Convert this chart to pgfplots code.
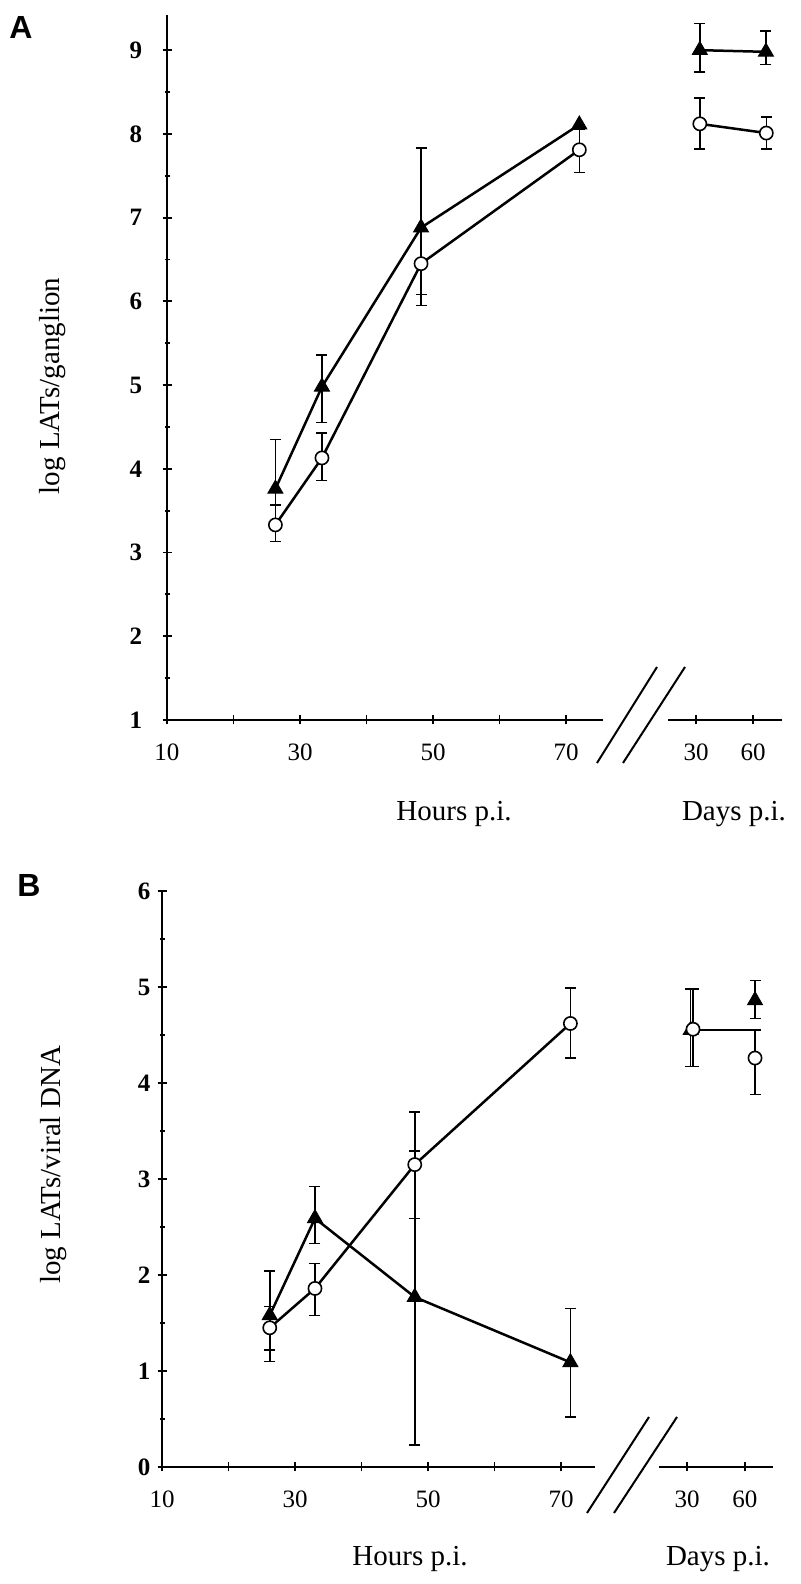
\documentclass[border=0pt]{standalone}
\usepackage{pgfplots}
\pgfplotsset{compat=1.18}
\usepackage{pgfplotstable}
\usepackage{fontspec}
\setmainfont{Liberation Serif}
\newfontfamily\panelfont{Liberation Sans}

% Panel A, hours
\pgfplotstableread{
x y ep em
26.3 3.76 0.59 0.19
33.3 4.98 0.38 0.43
48.2 6.88 0.95 0.80
72.0 8.11 0.00 0.00
}\Atri
\pgfplotstableread{
x y ep em
26.3 3.33 0.24 0.20
33.3 4.13 0.30 0.27
48.2 6.45 0.40 0.50
72.0 7.81 0.25 0.27
}\Acir
% Panel A, days
\pgfplotstableread{
x y ep em
32.0 9.00 0.32 0.26
66.8 8.98 0.25 0.15
}\Atrid
\pgfplotstableread{
x y ep em
32.0 8.12 0.31 0.30
67.0 8.01 0.19 0.19
}\Acird
% Panel B, hours
\pgfplotstableread{
x y ep em
26.2 1.58 0.46 0.36
33.0 2.59 0.33 0.26
48.0 1.77 1.52 1.54
71.4 1.09 0.56 0.57
}\Btri
\pgfplotstableread{
x y ep em
26.2 1.45 0.22 0.35
33.0 1.86 0.26 0.28
48.0 3.15 0.55 0.56
71.4 4.62 0.37 0.36
}\Bcir
% Panel B, days
\pgfplotstableread{
x y ep em
31.9 4.55 0.43 0.38
65.2 4.86 0.21 0.19
}\Btrid
\pgfplotstableread{
x y ep em
33.1 4.56 0.42 0.39
65.2 4.26 0.29 0.38
}\Bcird
\pgfplotstableread{
x y
33.1 4.55
65.2 4.55
}\Bline

\pgfplotsset{
  common/.style={
    scale only axis,
    anchor=south west,
    clip=false,
    axis line style={-, line width=1pt},
    every non boxed x axis/.append style={x axis line style=-},
    every non boxed y axis/.append style={y axis line style=-},
    tick style={black, line width=0.9pt},
    tick align=outside,
    major tick length=4.5pt,
    minor tick length=2.5pt,
    tick label style={font=\fontsize{12.5}{14}\selectfont},
    /pgf/number format/assume math mode=true,
  },
  hoursaxis/.style={
    common,
    axis x line=bottom, axis y line=left,
    xtick={10,20,...,70}, xticklabels={10,,30,,50,,70},
    minor y tick num=1,
    xticklabel style={yshift=-6pt},
  },
  daysaxis/.style={
    common,
    axis x line=bottom, axis y line=none,
    xtick={30,60}, xticklabels={30,60},
    xticklabel style={yshift=-6pt},
  },
  tri/.style={black, line width=1.25pt, mark=triangle*, mark size=4.3pt,
    mark options={fill=black, solid, line width=0.5pt},
    error bars/.cd, y dir=both, y explicit,
    error bar style={line width=0.75pt, black},
    error mark options={rotate=90, mark size=2.75pt, line width=0.75pt, black}},
  cir/.style={black, line width=1.25pt, mark=*, mark size=3.3pt,
    mark options={fill=white, draw=black, solid, line width=0.8pt},
    error bars/.cd, y dir=both, y explicit,
    error bar style={line width=0.75pt, black},
    error mark options={rotate=90, mark size=2.75pt, line width=0.75pt, black}},
}

\begin{document}
\begin{tikzpicture}[x=1pt,y=1pt]
\path (0,0) rectangle (400,792);

% ---------------- Panel A ----------------
\begin{axis}[hoursaxis, at={(83.5pt,432pt)}, width=218pt, height=352.5pt,
  xmin=10, xmax=75.56, ymin=1, ymax=9.42, ytick={1,...,9},
  yticklabel style={font=\fontsize{12.5}{14}\selectfont\bfseries, xshift=-6.7pt}]
\addplot[cir] table[x=x,y=y,y error plus=ep,y error minus=em] {\Acir};
\addplot[tri] table[x=x,y=y,y error plus=ep,y error minus=em] {\Atri};
\end{axis}
\begin{axis}[daysaxis, at={(334pt,432pt)}, width=57pt, height=352.5pt,
  xmin=15.26, xmax=75.26, ymin=1, ymax=9.42]
\addplot[cir] table[x=x,y=y,y error plus=ep,y error minus=em] {\Acird};
\addplot[tri] table[x=x,y=y,y error plus=ep,y error minus=em] {\Atrid};
\end{axis}
\draw[line width=1pt] (298.5,410.5) -- (328.5,458.5);
\draw[line width=1pt] (311.5,410.5) -- (342.5,458.5);
\node[font=\fontsize{14.5}{16}\selectfont] at (227,385) {Hours p.i.};
\node[font=\fontsize{14.5}{16}\selectfont] at (367,385) {Days p.i.};
\node[rotate=90, font=\fontsize{14.5}{16}\selectfont] at (26.5,599) {log LATs/ganglion};
\node[font=\panelfont\bfseries\fontsize{16}{18}\selectfont] at (10.5,778) {A};

% ---------------- Panel B ----------------
\begin{axis}[hoursaxis, at={(81pt,58.5pt)}, width=216.5pt, height=288pt,
  xmin=10, xmax=75.1, ymin=0, ymax=6, ytick={0,...,6},
  yticklabel style={font=\fontsize{12.5}{14}\selectfont\bfseries, xshift=0pt}]
\addplot[cir] table[x=x,y=y,y error plus=ep,y error minus=em] {\Bcir};
\addplot[tri] table[x=x,y=y,y error plus=ep,y error minus=em] {\Btri};
\end{axis}
\begin{axis}[daysaxis, at={(329.5pt,58.5pt)}, width=57pt, height=288pt,
  xmin=15.5, xmax=74.5, ymin=0, ymax=6]
\addplot[black, line width=1pt] table[x=x,y=y] {\Bline};
\addplot[only marks, tri] table[x=x,y=y,y error plus=ep,y error minus=em] {\Btrid};
\addplot[only marks, cir] table[x=x,y=y,y error plus=ep,y error minus=em] {\Bcird};
\end{axis}
\draw[line width=1pt] (293.5,35.5) -- (324.5,83.5);
\draw[line width=1pt] (307,35.5) -- (338.5,83.5);
\node[font=\fontsize{14.5}{16}\selectfont] at (205,12.5) {Hours p.i.};
\node[font=\fontsize{14.5}{16}\selectfont] at (359,12.5) {Days p.i.};
\node[rotate=90, font=\fontsize{14.5}{16}\selectfont] at (27,209.5) {log LATs/viral DNA};
\node[font=\panelfont\bfseries\fontsize{16}{18}\selectfont] at (14.5,349) {B};
\end{tikzpicture}
\end{document}
